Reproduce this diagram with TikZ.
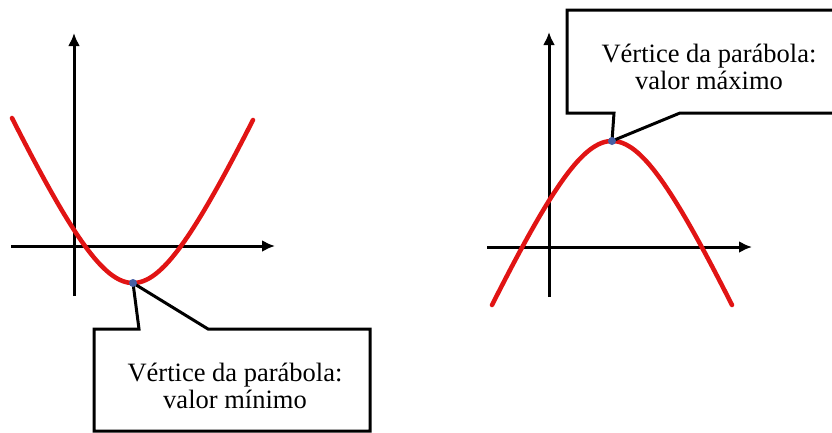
\documentclass[tikz,border=0pt]{standalone}
\usepackage{fontspec}
\setmainfont{Liberation Serif}
\usepackage{tikz}
\usetikzlibrary{arrows.meta}
\usetikzlibrary{positioning}
\definecolor{curvered}{RGB}{225,20,20}
\definecolor{dotblue}{RGB}{70,95,165}
\tikzset{
	axis/.style={line width=3pt,-{Latex[length=13pt,width=12pt]}},
	parab/.style={draw=curvered,line width=4.5pt,line cap=round},
	callout/.style={draw=black,fill=white,line width=3pt,line join=miter},
	vertexdot/.style={circle,fill=dotblue,inner sep=0pt,minimum size=8pt},
	balloontext/.style={align=center,font=\fontsize{26.5}{27}\selectfont},
}

\begin{document}
\begin{tikzpicture}[x=1pt,y=-1pt]
\useasboundingbox (0,0) rectangle (832,432);
% left: minimum
\draw[axis] (11,246)--(275,246);
\draw[axis] (74,296)--(74,33);
\draw[parab] plot[smooth,domain=12:253,samples=80] (\x,{283-131.9*(sqrt(1+((\x-133)/60)^2)-1)});
\coordinate (vmin) at (133,283);
\draw[callout] (139,329)--(94,329)--(94,431)--(370,431)--(370,329)--(208,329)--(vmin)--cycle;
\node[vertexdot] (dmin) at (vmin) {};
\node[balloontext] (txtmin) at (235,386) {Vértice da parábola:\\valor mínimo};

% right: maximum
\draw[axis] (487,247)--(752,247);
\draw[axis] (549,297)--(549,32);
\draw[parab] plot[smooth,domain=492:732,samples=80] (\x,{141+132.7*(sqrt(1+((\x-612)/60)^2)-1)});
\coordinate (vmax) at (612,141);
\draw[callout] (614,113)--(567,113)--(567,10)--(845,10)--(845,113)--(680,113)--(vmax)--cycle;
\node[vertexdot] (dmax) at (vmax) {};
\node[balloontext] (txtmax) at (709,67) {Vértice da parábola:\\valor máximo};
\end{tikzpicture}
\end{document}
